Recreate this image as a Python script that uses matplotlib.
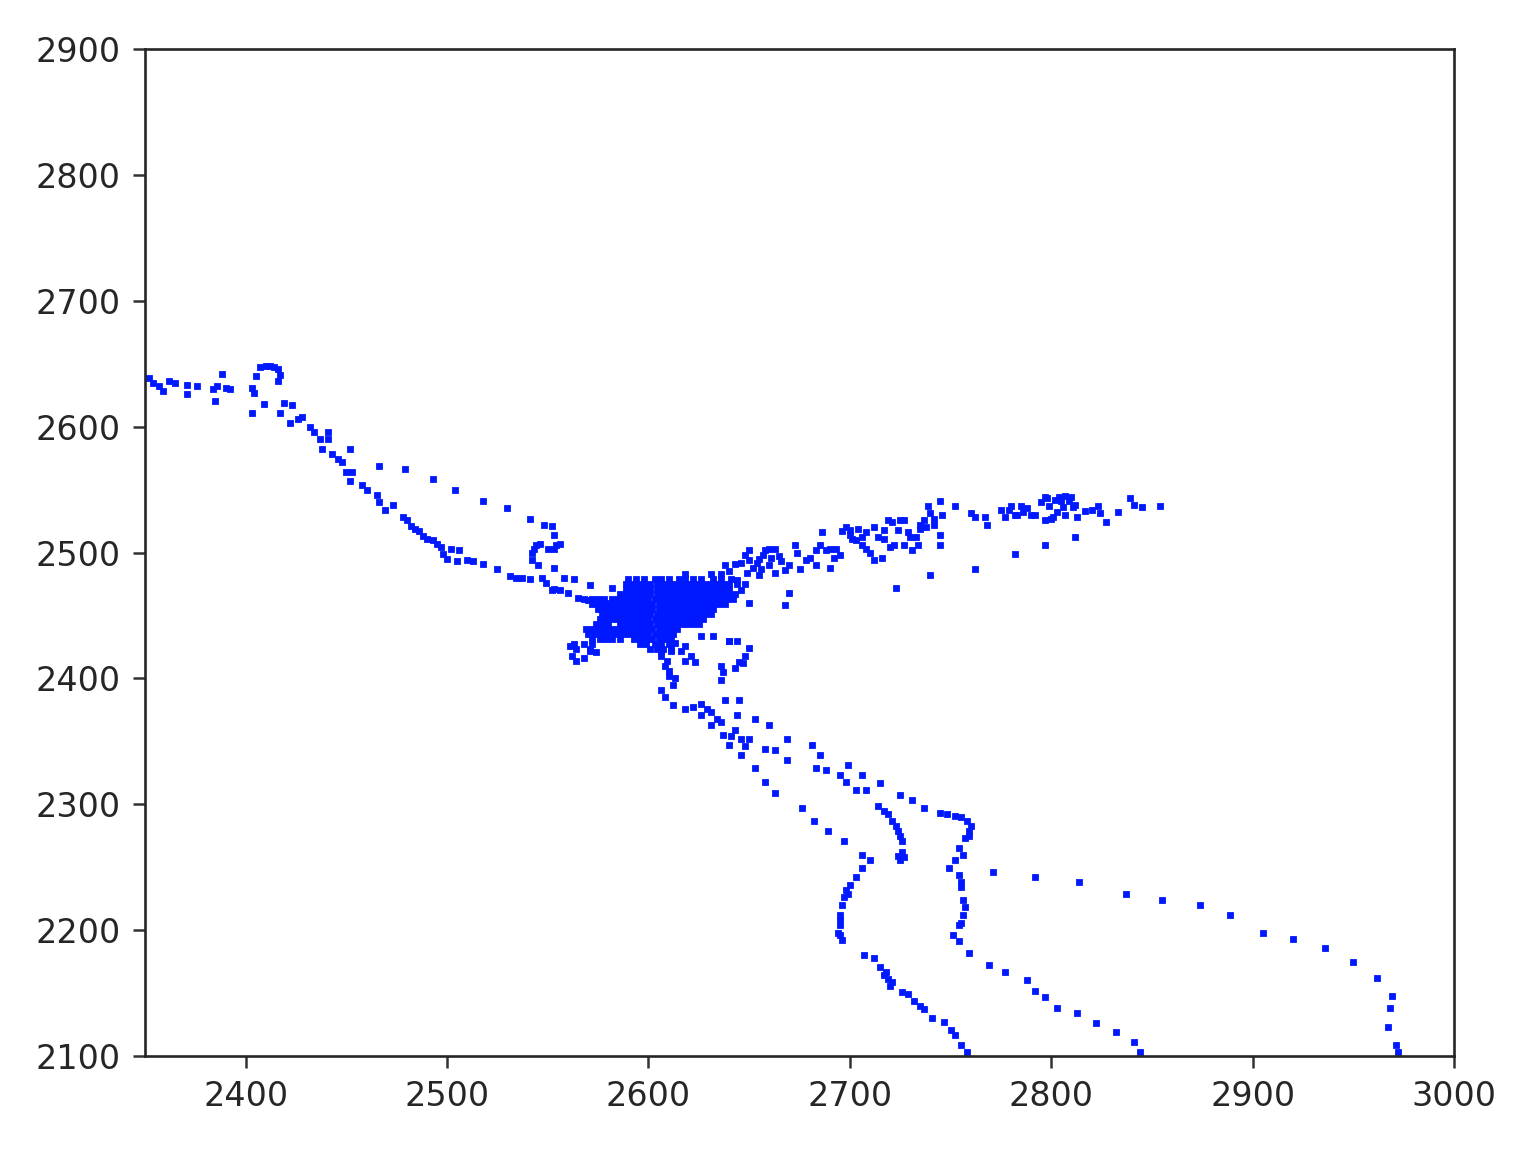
import matplotlib
matplotlib.use("Agg")
import matplotlib.pyplot as plt

# Values, one small list per visible branch
left_tail_x = [2352,2354,2357,2359,2362,2365,2371,2371,2376,2384,2386,2385,2388,2390,2392,2403,2404,2403,2405,2407,2409,2410,2412,2414,2416,2417,2416,2417,2419,2423,2422,2426,2428,2432,2434,2437,2441,2441,2438,2443,2446,2448,2452,2450,2453,2452,2458,2460,2465,2466,2469,2473,2478,2480,2482,2484,2486,2488,2490,2493,2495,2497,2498,2500,2502,2505,2506,2510,2513,2518,2525,2531,2534,2537,2541,2547,2549,2553,2556,2560,2565,2570]
left_tail_y = [2639,2635,2632,2628,2636,2635,2633,2626,2632,2630,2632,2620,2642,2631,2630,2631,2627,2611,2640,2647,2618,2648,2648,2647,2646,2641,2636,2611,2619,2617,2603,2606,2608,2600,2596,2590,2596,2590,2582,2578,2574,2572,2582,2564,2564,2557,2554,2550,2546,2540,2534,2538,2528,2526,2521,2519,2517,2513,2511,2510,2507,2504,2499,2495,2503,2493,2502,2494,2493,2491,2487,2481,2480,2480,2479,2480,2476,2471,2470,2468,2464,2462]

upper_diag_x = [2466,2479,2493,2504,2518,2530,2541,2548,2552,2553,2556,2553,2544,2542,2542,2545,2553,2558,2563,2571,2582,2543,2546,2550,2554]
upper_diag_y = [2569,2566,2558,2550,2541,2535,2527,2522,2521,2514,2507,2503,2506,2500,2494,2490,2488,2480,2479,2474,2472,2503,2507,2503,2506]

wing_x = [2638,2648,2650,2654,2657,2660,2663,2655,2660,2663,2668,2673,2675,2678,2683,2683,2688,2690,2693,2695,2690,2686,2698,2700,2704,2708,2703,2706,2710,2712,2716,2717,2721,2725,2727,2717,2722,2727,2731,2734,2737,2740,2739,2745,2752,2746,2742,2745,2745,2735,2760,2762,2767,2768,2775,2780,2783,2786,2790,2797,2799,2804,2807,2810,2812,2797,2800,2807,2817,2823,2824,2827,2833,2839,2841,2845,2854,2723,2740,2762,2782,2797,2812,2670,2668,2650]
wing_y = [2490,2498,2502,2492,2498,2503,2503,2482,2490,2484,2486,2506,2487,2494,2490,2502,2502,2503,2503,2498,2488,2516,2520,2514,2519,2516,2510,2506,2500,2494,2496,2518,2524,2526,2526,2511,2506,2506,2502,2506,2526,2531,2537,2541,2537,2530,2522,2514,2506,2519,2531,2528,2528,2522,2534,2537,2530,2532,2530,2544,2537,2544,2545,2544,2538,2526,2527,2530,2533,2537,2531,2524,2532,2543,2538,2536,2537,2472,2482,2487,2499,2506,2512,2468,2458,2460]

wing_extra_x = [2640,2644,2646,2642,2648,2652,2646,2650,2655,2658,2665,2670,2680,2696,2700,2706,2712,2719,2724,2730,2735,2738,2742,2733,2779,2782,2785,2788,2777,2795,2798,2802,2805,2809,2803,2806,2811,2801,2792,2813,2820,2643,2649,2656,2661,2666,2674,2685,2692,2701,2708,2714,2720,2729]
wing_extra_y = [2485,2478,2470,2466,2475,2488,2492,2494,2495,2502,2497,2490,2496,2517,2518,2512,2520,2526,2518,2512,2522,2520,2527,2512,2534,2530,2537,2535,2528,2540,2543,2542,2541,2541,2532,2536,2536,2528,2530,2528,2534,2491,2484,2487,2496,2493,2500,2506,2496,2511,2503,2512,2504,2516]

cluster_rows_y = [2483,2479,2475,2471,2467,2463,2459,2455,2451,2447,2443,2439,2435,2431,2427,2423]
cluster_rows_x = [
    [2618,2631,2636],
    [2590,2594,2598,2603,2606,2610,2615,2618,2622,2626,2632,2636,2641],
    [2589,2592,2595,2598,2601,2604,2607,2610,2613,2616,2619,2622,2625,2628,2631,2634,2637,2640,2644],
    [2589,2592,2595,2598,2601,2604,2607,2610,2613,2616,2619,2622,2625,2628,2631,2634,2637,2640],
    [2586,2589,2592,2595,2598,2601,2604,2607,2610,2613,2616,2619,2622,2625,2628,2631,2634,2637,2640,2643],
    [2568,2572,2575,2578,2582,2585,2588,2591,2594,2597,2600,2603,2606,2609,2612,2615,2618,2621,2624,2627,2630,2633,2636,2639,2642],
    [2572,2575,2578,2581,2584,2587,2590,2593,2596,2599,2602,2605,2608,2611,2614,2617,2620,2623,2626,2629,2632,2635,2638],
    [2575,2578,2581,2584,2587,2590,2593,2596,2599,2602,2605,2608,2611,2614,2617,2620,2623,2626,2629,2632],
    [2577,2580,2583,2586,2589,2592,2595,2598,2601,2604,2607,2610,2613,2616,2619,2622,2625,2628,2631],
    [2576,2579,2582,2585,2588,2591,2594,2597,2600,2603,2606,2609,2612,2615,2618,2621,2624,2627],
    [2574,2577,2580,2586,2589,2592,2595,2598,2601,2604,2607,2610,2613,2616,2619,2622,2625],
    [2569,2572,2575,2578,2581,2584,2587,2590,2593,2596,2599,2602,2605,2608,2611,2614],
    [2570,2573,2576,2579,2582,2585,2588,2591,2594,2597,2600,2603,2606,2609,2612],
    [2572,2576,2579,2582,2586,2593,2596,2599,2602,2605,2608,2611],
    [2563,2568,2572,2596,2599,2603,2606,2610],
    [2564,2571,2601,2604,2607,2611],
]

lower_short_x = [2626,2632,2640,2644,2650,2648,2645,2643,2636,2636,2618,2623,2611,2616,2621,2561,2562,2564,2568,2571,2574,2552,2579,2613,2618,2606,2609,2610,2613,2637,2640,2647]
lower_short_y = [2434,2434,2430,2430,2424,2418,2413,2408,2410,2399,2414,2413,2422,2422,2418,2426,2418,2414,2416,2422,2421,2470,2460,2428,2426,2418,2414,2406,2400,2405,2430,2412]

lower_left_x = [2606,2608,2610,2612,2606,2608,2612,2618,2626,2631,2636,2626,2631,2638,2645,2644,2653,2660,2643,2646,2650,2658,2663,2669,2637,2640,2646,2653,2658,2663,2669,2676,2682,2689,2697,2706,2710,2706,2703,2700,2699,2696,2695,2695,2694,2696,2707,2712,2715,2717,2720,2726,2732,2737,2741,2747,2752,2755,2758,2622,2629,2634,2641,2648,2698,2697,2695,2695,2718,2719,2721,2729,2735,2750]
lower_left_y = [2422,2410,2402,2395,2391,2385,2379,2376,2380,2373,2365,2371,2363,2383,2383,2371,2368,2363,2359,2352,2352,2344,2343,2352,2355,2347,2339,2329,2318,2309,2335,2297,2287,2279,2271,2260,2256,2249,2242,2236,2229,2220,2212,2204,2198,2192,2180,2178,2171,2164,2156,2151,2144,2137,2130,2127,2117,2109,2103,2377,2376,2368,2354,2346,2232,2226,2208,2196,2167,2161,2159,2149,2140,2121]

lower_mid_x = [2681,2685,2683,2688,2695,2699,2706,2698,2703,2708,2715,2725,2731,2714,2717,2721,2724,2726,2726,2725,2737,2745,2752,2758,2759,2757,2754,2752,2749,2754,2755,2756,2756,2754,2751,2754,2759,2769,2777,2788,2792,2797,2803,2813,2822,2832,2841,2844,2719,2723,2725,2727,2724,2748,2755,2760,2759,2756,2755,2757,2755]
lower_mid_y = [2347,2339,2329,2327,2323,2331,2323,2318,2311,2311,2317,2307,2303,2299,2295,2287,2279,2271,2262,2256,2297,2293,2291,2287,2279,2273,2265,2256,2249,2244,2234,2224,2212,2204,2196,2191,2182,2172,2167,2160,2152,2147,2138,2134,2126,2119,2111,2103,2292,2283,2275,2258,2259,2292,2290,2283,2275,2260,2238,2218,2206]

far_right_x = [2771,2792,2814,2837,2855,2874,2889,2905,2920,2936,2950,2962,2969,2968,2967,2971,2972]
far_right_y = [2246,2242,2238,2229,2224,2220,2212,2198,2193,2186,2175,2162,2148,2138,2123,2109,2103]

x_ticks = [2400,2500,2600,2700,2800,2900,3000]
y_ticks = [2100,2200,2300,2400,2500,2600,2700,2800,2900]

W, H = 1531, 1149
fig = plt.figure(figsize=(W/100, H/100), dpi=100)
ax = fig.add_axes([145/W, 1-1056/H, (1454-145)/W, (1056-49)/H])

blue = "#0018ff"
def draw(xs, ys):
    pts = ax.scatter(xs, ys, marker="s", s=24, linewidths=0, color=blue)
    pts.set_snap(False)

for xs, ys in [(left_tail_x, left_tail_y), (upper_diag_x, upper_diag_y), (wing_x, wing_y),
               (wing_extra_x, wing_extra_y), (lower_short_x, lower_short_y),
               (lower_left_x, lower_left_y), (lower_mid_x, lower_mid_y), (far_right_x, far_right_y)]:
    draw(xs, ys)
for yv, xs in zip(cluster_rows_y, cluster_rows_x):
    draw(xs, [yv]*len(xs))

ax.set_xlim(2350, 3000)
ax.set_ylim(2100, 2900)
ax.set_xticks(x_ticks)
ax.set_yticks(y_ticks)
ax.tick_params(axis="both", length=8.5, width=1.8, labelsize=24, labelcolor="#262626", color="#333333", pad=9)
for s in ax.spines.values():
    s.set_linewidth(1.9)
    s.set_color("#262626")
fig.savefig("out.png", dpi=100)
